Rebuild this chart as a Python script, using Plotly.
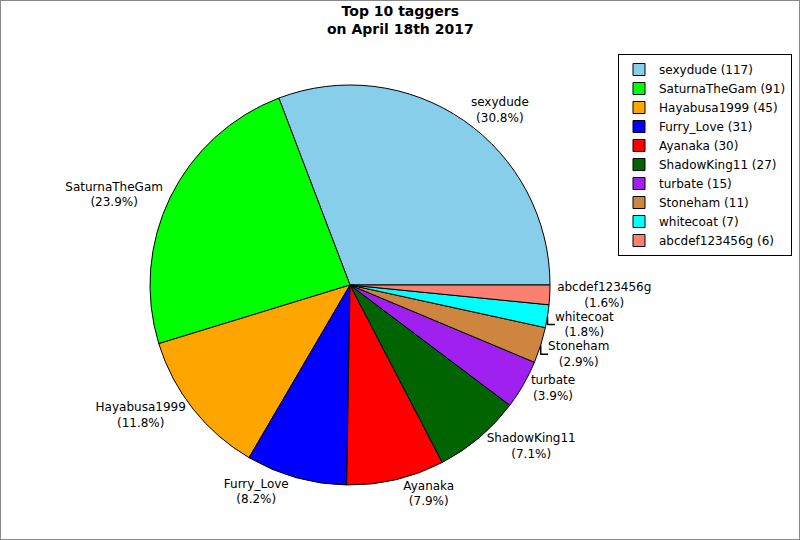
import plotly.graph_objects as go

# top taggers data
names = ["sexydude", "SaturnaTheGam", "Hayabusa1999", "Furry_Love", "Ayanaka",
         "ShadowKing11", "turbate", "Stoneham", "whitecoat", "abcdef123456g"]
counts = [117, 91, 45, 31, 30, 27, 15, 11, 7, 6]
colors = ["#87CEEB", "#00FF00", "#FFA500", "#0000FF", "#FF0000",
          "#006400", "#A020F0", "#CD853F", "#00FFFF", "#FA8072"]
title_text = "Top 10 taggers<br>on April 18th 2017"

total = sum(counts)
legend_names = ["%s (%d)" % (n, c) for n, c in zip(names, counts)]
slice_text = ["%s<br>(%.1f%%)" % (n, 100.0 * c / total) for n, c in zip(names, counts)]

# first slice should start at 3 o'clock and run counterclockwise
first_angle = 360.0 * counts[0] / total

pie = go.Pie(labels=legend_names, values=counts, text=slice_text,
             textinfo="text", textposition="outside", sort=False,
             direction="counterclockwise", rotation=90 - first_angle,
             marker=dict(colors=colors, line=dict(color="black", width=1)),
             outsidetextfont=dict(family="DejaVu Sans", size=12, color="black"),
             domain=dict(x=[150 / 800, 550 / 800], y=[1 - 485 / 540, 1 - 85 / 540]),
             automargin=False, hoverinfo="label+percent")

fig = go.Figure(data=[pie])
fig.update_layout(
    width=800, height=540,
    margin=dict(l=0, r=0, t=0, b=0),
    paper_bgcolor="white",
    font=dict(family="DejaVu Sans", size=12, color="black"),
    legend=dict(x=0.99, y=1 - 54 / 540, xanchor="right", yanchor="top",
                bordercolor="black", borderwidth=1, bgcolor="white",
                font=dict(size=12), tracegroupgap=0, traceorder="normal"),
    shapes=[dict(type="rect", xref="paper", yref="paper", x0=0, y0=0, x1=1, y1=1,
                 line=dict(color="#888888", width=2))],
)

fig.add_annotation(text="<b>%s</b>" % title_text, xref="paper", yref="paper",
                   x=0.5, y=1 - 2 / 540, xanchor="center", yanchor="top",
                   showarrow=False, font=dict(family="DejaVu Sans", size=14),
                   borderpad=0)

# drop the default page margin so the figure fills the window exactly
fig.write_html("out.html", config={"displayModeBar": False},
               post_script="document.body.style.margin='0';")
